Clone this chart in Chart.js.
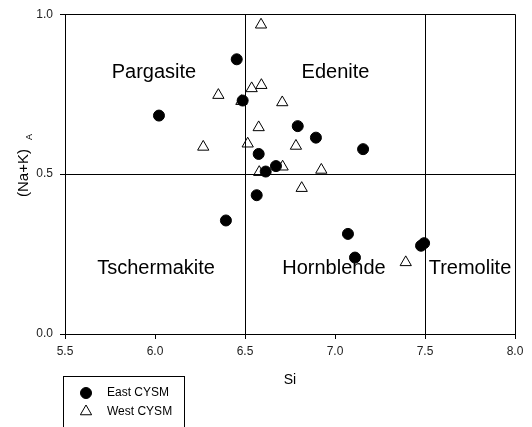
<!DOCTYPE html>
<html>
<head>
<meta charset="utf-8">
<script src="https://cdn.jsdelivr.net/npm/chart.js@4/dist/chart.umd.min.js"></script>
<style>
    html, body { margin: 0; padding: 0; background: #fff; }
    #wrap { width: 532px; height: 427px; position: relative; }
</style>
</head>
<body>
<div id="wrap"><canvas id="grafico" width="532" height="427"></canvas></div>
<script>
// Dados
const eastSi  = [6.454, 6.487, 6.022, 6.793, 6.576, 6.672, 6.615, 6.894, 7.156, 6.565, 6.394, 7.072, 7.111, 7.478, 7.495];
const eastNaK = [0.859, 0.730, 0.683, 0.650, 0.563, 0.525, 0.508, 0.614, 0.578, 0.434, 0.355, 0.313, 0.239, 0.276, 0.284];

const westSi  = [6.589, 6.537, 6.591, 6.352, 6.480, 6.707, 6.576, 6.268, 6.515, 6.579, 6.709, 6.783, 6.924, 6.815, 7.393];
const westNaK = [0.967, 0.768, 0.778, 0.747, 0.728, 0.724, 0.646, 0.585, 0.595, 0.506, 0.523, 0.588, 0.513, 0.456, 0.224];

const xTicks = [5.5, 6.0, 6.5, 7.0, 7.5, 8.0];
const yTicks = [0.0, 0.5, 1.0];

// Linhas de divisão dos campos
const divisoesSi = [6.5, 7.5];
const divisaoNaK = 0.5;

// Nomes dos campos (centro do texto em coordenadas de dados)
const camposNome = ['Pargasite', 'Edenite', 'Tschermakite', 'Hornblende', 'Tremolite'];
const camposSi   = [5.994, 7.003, 6.006, 6.994, 7.750];
const camposNaK  = [0.817, 0.817, 0.204, 0.204, 0.204];

const FONTE = 'Arial, "Liberation Sans", sans-serif';

const pontos = (xs, ys) => xs.map((x, i) => ({ x: x, y: ys[i] }));

// Plugin: linhas dos campos, moldura, rótulos, títulos dos eixos e legenda
const extras = {
    id: 'extras',
    afterDatasetsDraw(chart) {
        const { ctx, chartArea: a, scales: { x, y } } = chart;
        ctx.save();
        ctx.strokeStyle = '#000';
        ctx.lineWidth = 1;
        ctx.beginPath();
        divisoesSi.forEach(v => {
            const px = Math.round(x.getPixelForValue(v)) + 0.5;
            ctx.moveTo(px, a.top);
            ctx.lineTo(px, a.bottom);
        });
        const py = Math.round(y.getPixelForValue(divisaoNaK)) + 0.5;
        ctx.moveTo(a.left, py);
        ctx.lineTo(a.right, py);
        // moldura superior e direita
        ctx.moveTo(a.left, Math.round(a.top) + 0.5);
        ctx.lineTo(Math.round(a.right) + 0.5, Math.round(a.top) + 0.5);
        ctx.lineTo(Math.round(a.right) + 0.5, a.bottom);
        ctx.stroke();

        ctx.fillStyle = '#000';
        ctx.font = '20px ' + FONTE;
        ctx.textAlign = 'center';
        ctx.textBaseline = 'middle';
        camposNome.forEach((nome, i) => {
            ctx.fillText(nome, x.getPixelForValue(camposSi[i]), y.getPixelForValue(camposNaK[i]));
        });
        ctx.restore();
    },
    afterDraw(chart) {
        const { ctx, chartArea: a } = chart;
        ctx.save();
        ctx.fillStyle = '#000';
        ctx.textBaseline = 'middle';

        // título eixo X
        ctx.font = '14px ' + FONTE;
        ctx.textAlign = 'center';
        ctx.fillText('Si', (a.left + a.right) / 2, 380);

        // título eixo Y (rotacionado, com subscrito)
        ctx.translate(24, 173);
        ctx.rotate(-Math.PI / 2);
        ctx.font = '15px ' + FONTE;
        ctx.fillText('(Na+K)', 0, 0);
        ctx.font = '9px ' + FONTE;
        ctx.fillText('A', 36, 6);
        ctx.setTransform(1, 0, 0, 1, 0, 0);

        // legenda
        ctx.strokeStyle = '#000';
        ctx.lineWidth = 1;
        ctx.strokeRect(63.5, 376.5, 121, 60);
        ctx.font = '12px ' + FONTE;
        ctx.textAlign = 'left';
        chart.data.datasets.forEach((ds, i) => {
            const ly = 393 + i * 18.5;
            const r = ds.pointRadius;
            ctx.fillStyle = ds.backgroundColor;
            ctx.strokeStyle = ds.borderColor;
            ctx.beginPath();
            if (ds.pointStyle === 'circle') {
                ctx.arc(86, ly, r, 0, Math.PI * 2);
            } else {
                ctx.moveTo(86, ly - r);
                ctx.lineTo(86 + r * Math.sin(Math.PI * 2 / 3), ly - r * Math.cos(Math.PI * 2 / 3));
                ctx.lineTo(86 - r * Math.sin(Math.PI * 2 / 3), ly - r * Math.cos(Math.PI * 2 / 3));
                ctx.closePath();
            }
            ctx.fill();
            ctx.stroke();
            ctx.fillStyle = '#000';
            ctx.fillText(ds.label, 107, ly);
        });
        ctx.restore();
    }
};

new Chart(document.getElementById('grafico'), {
    type: 'scatter',
    data: {
        datasets: [
            {
                label: 'East CYSM',
                data: pontos(eastSi, eastNaK),
                pointStyle: 'circle',
                pointRadius: 5.5,
                backgroundColor: '#000',
                borderColor: '#000',
                borderWidth: 1
            },
            {
                label: 'West CYSM',
                data: pontos(westSi, westNaK),
                pointStyle: 'triangle',
                pointRadius: 6.5,
                backgroundColor: '#fff',
                borderColor: '#000',
                borderWidth: 1
            }
        ]
    },
    options: {
        responsive: false,
        animation: false,
        devicePixelRatio: 1,
        layout: { padding: { left: 0, top: 11, right: 17, bottom: 63 } },
        plugins: {
            legend: { display: false },
            tooltip: { enabled: false }
        },
        scales: {
            x: {
                type: 'linear',
                min: 5.5,
                max: 8.0,
                afterBuildTicks: s => { s.ticks = xTicks.map(v => ({ value: v })); },
                afterFit: s => { s.height = 30; },
                ticks: {
                    callback: v => v.toFixed(1),
                    color: '#222',
                    font: { family: FONTE, size: 12 },
                    padding: 5,
                    maxRotation: 0
                },
                grid: { drawOnChartArea: false, drawTicks: true, tickLength: 5, color: '#000' },
                border: { display: true, color: '#000', width: 1 }
            },
            y: {
                type: 'linear',
                min: 0,
                max: 1,
                afterBuildTicks: s => { s.ticks = yTicks.map(v => ({ value: v })); },
                afterFit: s => { s.width = 65; },
                ticks: {
                    callback: v => v.toFixed(1),
                    color: '#222',
                    font: { family: FONTE, size: 12 },
                    padding: 7
                },
                grid: { drawOnChartArea: false, drawTicks: true, tickLength: 5, color: '#000' },
                border: { display: true, color: '#000', width: 1 }
            }
        }
    },
    plugins: [extras]
});
</script>
</body>
</html>
